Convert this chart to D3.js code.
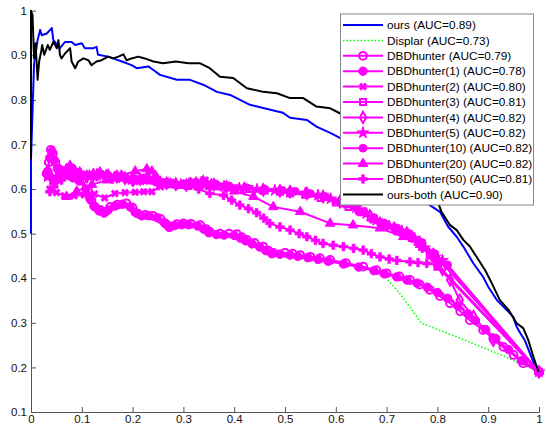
<!DOCTYPE html>
<html><head><meta charset="utf-8">
<script src="https://cdn.jsdelivr.net/npm/d3@7"></script>
<style>
html,body{margin:0;padding:0;background:#fff;}
svg{display:block;font-family:"Liberation Sans",Arial,sans-serif;}
</style></head>
<body><svg id="c" width="546" height="430"></svg>
<script>
// ---- data: [recall, precision] ----
const xTicks = [0,0.1,0.2,0.3,0.4,0.5,0.6,0.7,0.8,0.9,1];
const yTicks = [0.1,0.2,0.3,0.4,0.5,0.6,0.7,0.8,0.9,1];
const xTickLabels = ["0","0.1","0.2","0.3","0.4","0.5","0.6","0.7","0.8","0.9","1"];
const yTickLabels = ["0.1","0.2","0.3","0.4","0.5","0.6","0.7","0.8","0.9","1"];

const seriesNames = ["ours (AUC=0.89)","Displar (AUC=0.73)","DBDhunter (AUC=0.79)","DBDhunter(1) (AUC=0.78)",
 "DBDhunter(2) (AUC=0.80)","DBDhunter(3) (AUC=0.81)","DBDhunter(4) (AUC=0.82)","DBDhunter(5) (AUC=0.82)",
 "DBDhunter(10) (AUC=0.82)","DBDhunter(20) (AUC=0.82)","DBDhunter(50) (AUC=0.81)","ours-both (AUC=0.90)"];

const ours = [[0,0.5],[0,0.667],[0.006,0.88],[0.013,0.934],[0.018,0.957],[0.021,0.945],[0.031,0.949],[0.041,0.961],[0.044,0.934],[0.057,0.916],[0.067,0.930],[0.080,0.930],[0.087,0.923],[0.100,0.927],[0.106,0.916],[0.123,0.916],[0.129,0.919],[0.132,0.901],[0.152,0.897],[0.179,0.886],[0.198,0.878],[0.208,0.871],[0.231,0.875],[0.241,0.867],[0.254,0.856],[0.287,0.845],[0.313,0.845],[0.339,0.834],[0.366,0.818],[0.392,0.811],[0.431,0.789],[0.457,0.782],[0.496,0.771],[0.510,0.760],[0.543,0.755],[0.562,0.740],[0.589,0.726],[0.608,0.715],[0.65,0.69],[0.70,0.655],[0.75,0.61],[0.785,0.564],[0.805,0.549],[0.821,0.516],[0.838,0.493],[0.851,0.471],[0.871,0.433],[0.890,0.403],[0.900,0.381],[0.917,0.351],[0.936,0.329],[0.949,0.314],[0.956,0.291],[0.963,0.277],[0.972,0.261],[0.982,0.232],[0.995,0.194],[1.0,0.188]];

const oursBoth = [[0,0.667],[0,1.0],[0.003,0.99],[0.006,0.893],[0.009,0.927],[0.013,0.845],[0.016,0.886],[0.020,0.908],[0.022,0.923],[0.026,0.901],[0.033,0.923],[0.037,0.912],[0.044,0.930],[0.051,0.916],[0.054,0.934],[0.057,0.901],[0.060,0.893],[0.067,0.904],[0.077,0.916],[0.080,0.886],[0.087,0.871],[0.093,0.886],[0.103,0.893],[0.113,0.889],[0.119,0.878],[0.129,0.886],[0.139,0.889],[0.152,0.897],[0.162,0.893],[0.172,0.897],[0.182,0.902],[0.188,0.889],[0.198,0.893],[0.211,0.897],[0.224,0.893],[0.241,0.886],[0.26,0.882],[0.285,0.886],[0.31,0.882],[0.333,0.882],[0.352,0.871],[0.372,0.852],[0.398,0.849],[0.425,0.826],[0.457,0.818],[0.484,0.815],[0.510,0.804],[0.536,0.804],[0.562,0.785],[0.589,0.781],[0.608,0.770],[0.65,0.75],[0.70,0.71],[0.75,0.65],[0.78,0.60],[0.802,0.568],[0.808,0.549],[0.825,0.519],[0.838,0.508],[0.851,0.486],[0.864,0.471],[0.877,0.448],[0.894,0.418],[0.907,0.389],[0.923,0.351],[0.940,0.329],[0.956,0.299],[0.969,0.288],[0.979,0.261],[0.989,0.224],[0.999,0.190]];

const displar = [[0.69,0.415],[0.697,0.403],[0.726,0.366],[0.769,0.299],[0.844,0.266],[0.923,0.229],[1.0,0.19]];

const dbd = [[0.031,0.635],[0.035,0.66],[0.039,0.688],[0.043,0.68],[0.048,0.66],[0.055,0.645],[0.065,0.636],[0.077,0.63],[0.087,0.628],[0.10,0.62],[0.112,0.598],[0.119,0.575],[0.126,0.56],[0.136,0.553],[0.146,0.549],[0.156,0.56],[0.17,0.565],[0.188,0.568],[0.2,0.558],[0.21,0.545],[0.225,0.542],[0.24,0.54],[0.255,0.533],[0.265,0.522],[0.274,0.516],[0.287,0.521],[0.3,0.523],[0.315,0.522],[0.333,0.519],[0.345,0.51],[0.352,0.504],[0.372,0.5],[0.39,0.5],[0.405,0.499],[0.415,0.492],[0.425,0.486],[0.44,0.479],[0.457,0.471],[0.467,0.462],[0.477,0.457],[0.5,0.457],[0.515,0.455],[0.53,0.452],[0.55,0.448],[0.569,0.445],[0.589,0.441],[0.62,0.434],[0.654,0.426],[0.68,0.418],[0.70,0.411],[0.725,0.404],[0.746,0.396],[0.765,0.386],[0.785,0.374],[0.805,0.36],[0.825,0.344],[0.845,0.326],[0.864,0.306],[0.89,0.284],[0.91,0.265],[0.93,0.246],[0.95,0.228],[0.969,0.209],[1.0,0.19]];

const dbd1 = [[0.033,0.64],[0.037,0.67],[0.041,0.684],[0.046,0.665],[0.052,0.645],[0.06,0.638],[0.072,0.632],[0.083,0.625],[0.095,0.618],[0.108,0.6],[0.116,0.578],[0.124,0.562],[0.134,0.551],[0.144,0.546],[0.152,0.553],[0.165,0.562],[0.18,0.566],[0.195,0.56],[0.205,0.548],[0.218,0.54],[0.232,0.54],[0.248,0.536],[0.262,0.525],[0.272,0.514],[0.283,0.518],[0.297,0.52],[0.31,0.52],[0.328,0.517],[0.34,0.51],[0.35,0.502],[0.365,0.498],[0.38,0.497],[0.4,0.496],[0.412,0.49],[0.422,0.484],[0.435,0.477],[0.45,0.47],[0.462,0.462],[0.474,0.455],[0.49,0.454],[0.51,0.452],[0.525,0.449],[0.545,0.446],[0.565,0.442],[0.585,0.438],[0.615,0.432],[0.645,0.425],[0.675,0.417],[0.695,0.41],[0.72,0.403],[0.74,0.396],[0.76,0.389],[0.78,0.38],[0.80,0.368],[0.82,0.355],[0.84,0.338],[0.86,0.32],[0.875,0.305],[0.895,0.285],[0.915,0.265],[0.94,0.24],[0.965,0.215],[1.0,0.19]];

const dbd2 = [[0.037,0.6],[0.05,0.592],[0.066,0.585],[0.085,0.585],[0.105,0.587],[0.125,0.589],[0.145,0.58],[0.165,0.59],[0.185,0.592],[0.205,0.593],[0.222,0.594],[0.238,0.594],[0.255,0.605],[0.27,0.613],[0.29,0.61],[0.306,0.609],[0.325,0.615],[0.343,0.62],[0.365,0.61],[0.385,0.605],[0.42,0.601],[0.457,0.598],[0.49,0.596],[0.51,0.594],[0.543,0.59],[0.575,0.583],[0.6,0.572],[0.62,0.565],[0.645,0.55],[0.667,0.535],[0.695,0.52],[0.72,0.508],[0.745,0.494],[0.76,0.48],[0.775,0.465],[0.79,0.45],[0.8,0.43],[1.0,0.19]];

const dbd3 = [[0.034,0.63],[0.045,0.62],[0.057,0.633],[0.07,0.641],[0.08,0.645],[0.092,0.637],[0.105,0.63],[0.12,0.63],[0.136,0.633],[0.152,0.628],[0.17,0.626],[0.19,0.622],[0.21,0.62],[0.228,0.622],[0.25,0.616],[0.27,0.611],[0.29,0.609],[0.31,0.607],[0.33,0.612],[0.35,0.61],[0.37,0.606],[0.4,0.602],[0.43,0.6],[0.46,0.597],[0.49,0.594],[0.51,0.59],[0.54,0.587],[0.57,0.58],[0.6,0.57],[0.625,0.56],[0.65,0.548],[0.675,0.532],[0.7,0.518],[0.725,0.505],[0.75,0.49],[0.77,0.47],[0.785,0.452],[0.8,0.426],[1.0,0.19]];

const dbd4 = [[0.031,0.635],[0.04,0.625],[0.047,0.617],[0.057,0.635],[0.07,0.643],[0.077,0.65],[0.086,0.64],[0.096,0.635],[0.11,0.628],[0.123,0.632],[0.136,0.635],[0.152,0.63],[0.169,0.628],[0.185,0.624],[0.201,0.62],[0.215,0.622],[0.228,0.625],[0.25,0.618],[0.267,0.613],[0.285,0.611],[0.306,0.609],[0.325,0.613],[0.339,0.616],[0.36,0.61],[0.385,0.605],[0.42,0.601],[0.457,0.598],[0.49,0.596],[0.51,0.594],[0.543,0.59],[0.575,0.583],[0.608,0.572],[0.641,0.557],[0.667,0.54],[0.687,0.523],[0.715,0.512],[0.74,0.501],[0.766,0.478],[0.79,0.45],[0.81,0.42],[0.825,0.396],[0.844,0.351],[0.871,0.314],[0.91,0.261],[1.0,0.19]];

const dbd5 = [[0.033,0.628],[0.043,0.62],[0.052,0.625],[0.062,0.638],[0.074,0.646],[0.084,0.642],[0.098,0.633],[0.115,0.63],[0.13,0.633],[0.148,0.631],[0.165,0.627],[0.18,0.625],[0.198,0.621],[0.215,0.62],[0.232,0.623],[0.255,0.616],[0.275,0.612],[0.295,0.61],[0.315,0.611],[0.335,0.615],[0.355,0.611],[0.38,0.606],[0.41,0.602],[0.445,0.599],[0.48,0.597],[0.51,0.595],[0.54,0.591],[0.565,0.586],[0.59,0.578],[0.615,0.568],[0.64,0.558],[0.66,0.545],[0.68,0.53],[0.705,0.517],[0.73,0.506],[0.755,0.49],[0.775,0.468],[0.795,0.447],[0.81,0.44],[1.0,0.19]];

const dbd10 = [[0.035,0.632],[0.046,0.622],[0.055,0.63],[0.066,0.64],[0.078,0.648],[0.09,0.638],[0.102,0.632],[0.118,0.63],[0.134,0.634],[0.15,0.632],[0.168,0.63],[0.186,0.626],[0.204,0.623],[0.222,0.625],[0.24,0.62],[0.26,0.615],[0.28,0.613],[0.3,0.612],[0.32,0.614],[0.34,0.618],[0.362,0.612],[0.39,0.607],[0.425,0.603],[0.46,0.6],[0.495,0.597],[0.52,0.595],[0.55,0.59],[0.58,0.583],[0.61,0.573],[0.635,0.562],[0.655,0.55],[0.675,0.536],[0.695,0.524],[0.72,0.513],[0.745,0.5],[0.77,0.48],[0.795,0.455],[0.82,0.43],[1.0,0.19]];

const dbd20 = [[0.07,0.583],[0.09,0.595],[0.12,0.61],[0.15,0.62],[0.178,0.631],[0.205,0.64],[0.228,0.645],[0.238,0.64],[0.245,0.63],[0.27,0.613],[0.31,0.61],[0.352,0.605],[0.40,0.595],[0.438,0.583],[0.477,0.56],[0.53,0.549],[0.589,0.523],[0.634,0.519],[0.687,0.512],[0.733,0.493],[0.766,0.475],[0.792,0.456],[1.0,0.19]];

const dbd50 = [[0.037,0.594],[0.045,0.605],[0.06,0.62],[0.08,0.628],[0.1,0.63],[0.13,0.628],[0.16,0.622],[0.2,0.617],[0.25,0.61],[0.28,0.612],[0.313,0.616],[0.33,0.6],[0.352,0.59],[0.379,0.586],[0.395,0.575],[0.411,0.564],[0.428,0.556],[0.444,0.547],[0.458,0.535],[0.47,0.523],[0.49,0.515],[0.51,0.508],[0.528,0.5],[0.543,0.493],[0.56,0.485],[0.575,0.478],[0.595,0.474],[0.615,0.471],[0.635,0.467],[0.654,0.463],[0.67,0.455],[0.687,0.448],[0.705,0.443],[0.72,0.44],[0.746,0.437],[0.762,0.435],[0.779,0.433],[0.80,0.43],[1.0,0.19]];

// ---- drawing ----
const svg = d3.select("#c");
const x = d3.scaleLinear().domain([0,1]).range([31,539]);
const y = d3.scaleLinear().domain([0.1,1]).range([412,10.7]);
const MAG = "#ff00ff";

const series = [
  {data:ours, color:"#0000ff", w:2, marker:null},
  {data:displar, color:"#00ff00", w:1.5, dash:"1.5,2", marker:null},
  {data:dbd, color:MAG, w:2, marker:"circle"},
  {data:dbd1, color:MAG, w:2, marker:"dot"},
  {data:dbd2, color:MAG, w:2, marker:"x"},
  {data:dbd3, color:MAG, w:2, marker:"square"},
  {data:dbd4, color:MAG, w:2, marker:"diamond"},
  {data:dbd5, color:MAG, w:2, marker:"star"},
  {data:dbd10, color:MAG, w:2, marker:"hex"},
  {data:dbd20, color:MAG, w:2, marker:"triangle"},
  {data:dbd50, color:MAG, w:2, marker:"plus"},
  {data:oursBoth, color:"#000000", w:2, marker:null}
];

function markerPath(kind){
  switch(kind){
    case "circle": return d3.symbol().type(d3.symbolCircle).size(48)();
    case "dot": return d3.symbol().type(d3.symbolCircle).size(56)();
    case "x": return d3.symbol().type(d3.symbolCross).size(36)();
    case "square": return d3.symbol().type(d3.symbolSquare).size(36)();
    case "diamond": return d3.symbol().type(d3.symbolDiamond).size(36)();
    case "star": return d3.symbol().type(d3.symbolStar).size(42)();
    case "hex": return d3.symbol().type(d3.symbolCircle).size(48)();
    case "triangle": return d3.symbol().type(d3.symbolTriangle).size(40)();
    case "plus": return d3.symbol().type(d3.symbolCross).size(42)();
  }
}
function markerStyle(sel, kind, color){
  const open = (kind==="circle"||kind==="square"||kind==="diamond");
  sel.attr("d", markerPath(kind))
     .attr("fill", open ? "none" : color)
     .attr("stroke", color)
     .attr("stroke-width", open ? 2 : (kind==="plus"||kind==="x" ? 0.5 : 1));
}

// axes
const gx = svg.append("g").attr("transform","translate(0,412)")
  .call(d3.axisBottom(x).tickValues(xTicks).tickFormat((d,i)=>xTickLabels[i]).tickSizeInner(-5).tickSizeOuter(0).tickPadding(3));
const gy = svg.append("g").attr("transform","translate(31,0)")
  .call(d3.axisLeft(y).tickValues(yTicks).tickFormat((d,i)=>yTickLabels[i]).tickSizeInner(-5).tickSizeOuter(0).tickPadding(4));
[gx,gy].forEach(g=>{
  g.select(".domain").attr("stroke","#555").attr("stroke-width",1);
  g.selectAll(".tick line").attr("stroke","#555");
  g.selectAll(".tick text").attr("fill","#111").style("font-size","11.5px").style("font-family","'Liberation Sans',Arial,sans-serif");
});

// lines
const line = d3.line().x(d=>x(d[0])).y(d=>y(d[1]));
const plot = svg.append("g");
series.forEach(s=>{
  const g = plot.append("g");
  g.append("path").datum(s.data).attr("d",line).attr("fill","none")
    .attr("stroke",s.color).attr("stroke-width",s.w).attr("stroke-linejoin","round")
    .attr("stroke-dasharray", s.dash||null);
  if(s.marker){
    g.selectAll("path.m").data(s.data).join("path").attr("class","m")
      .call(sel=>markerStyle(sel,s.marker,s.color))
      .attr("transform",d=>`translate(${x(d[0])},${y(d[1])})${s.marker==="x"?" rotate(45)":""}`);
  }
});

// legend
const lg = svg.append("g");
const L = {x0:340, y0:13.5, w:193, h:191, row0:25, step:15.4};
lg.append("rect").attr("x",L.x0+0.5).attr("y",L.y0+0.5).attr("width",L.w).attr("height",L.h)
  .attr("fill","#fff").attr("stroke","#888").attr("stroke-width",1);
series.forEach((s,i)=>{
  const yy = L.row0 + i*L.step;
  lg.append("line").attr("x1",343).attr("x2",383).attr("y1",yy).attr("y2",yy)
    .attr("stroke",s.color).attr("stroke-width",s.w).attr("stroke-dasharray",s.dash||null);
  if(s.marker){
    lg.append("path").call(sel=>markerStyle(sel,s.marker,s.color))
      .attr("transform",`translate(363,${yy})${s.marker==="x"?" rotate(45)":""}`);
  }
  lg.append("text").attr("x",387).attr("y",yy).attr("dy","0.36em")
    .style("font-size","11.8px").attr("fill","#000").text(seriesNames[i]);
});
</script></body></html>
